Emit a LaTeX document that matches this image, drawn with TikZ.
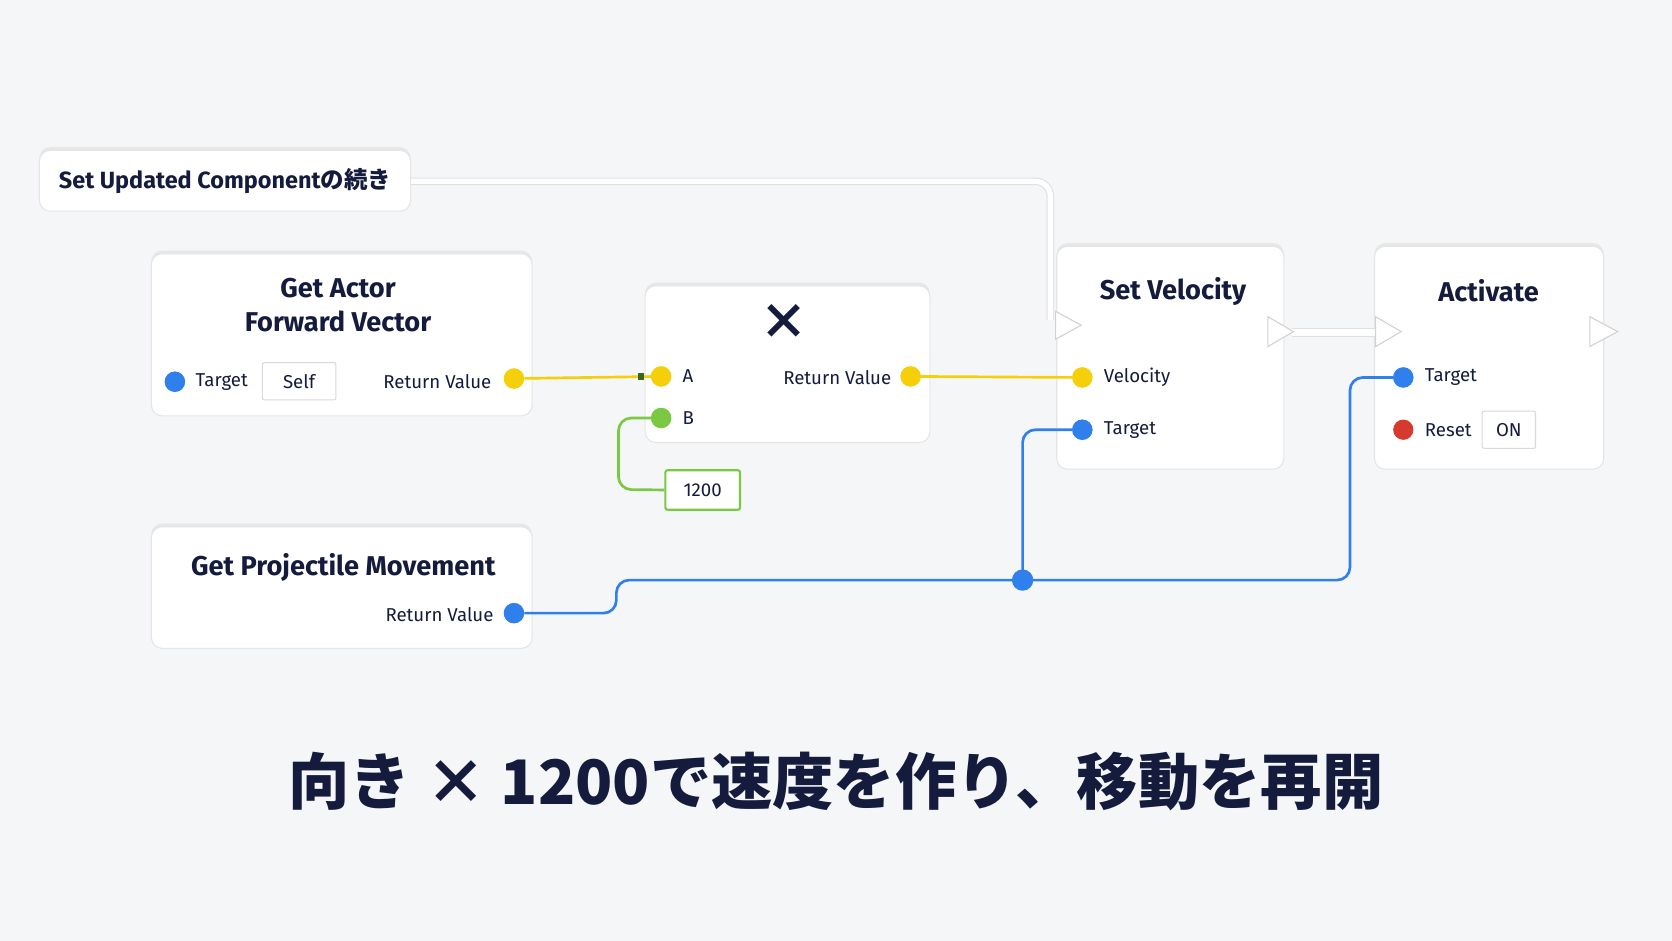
\documentclass[tikz,border=0pt]{standalone}
\usepackage{fontspec}
\setmainfont{Fira Sans}
\newfontfamily\cjk{Noto Sans CJK JP}
\usetikzlibrary{shadows,calc}
\definecolor{bg}{HTML}{F5F6F8}
\definecolor{ink}{HTML}{141B3D}
\definecolor{pblue}{HTML}{2F80ED}
\definecolor{pyel}{HTML}{F5CF0A}
\definecolor{pgreen}{HTML}{7BC843}
\definecolor{pred}{HTML}{D63A2F}
\tikzset{
 box/.style={draw=black!10, fill=white, rounded corners=10pt, line width=1pt,
   drop shadow={opacity=0.12, shadow xshift=0pt, shadow yshift=3pt}},
 pin/.style={circle, minimum size=19pt, inner sep=0pt, fill=#1},
 lbl/.style={font=\fontsize{17.5}{20}\selectfont, text=ink, inner sep=0pt},
 ttl/.style={font=\fontsize{25.5}{32}\selectfont\bfseries, text=ink, align=center, inner sep=0pt},
 valbox/.style={draw=black!15, fill=white, rounded corners=2pt, line width=1pt, font=\fontsize{17.5}{20}\selectfont, text=ink, inner sep=0pt},
 wire/.style={line width=2.5pt, #1},
 exec/.style={draw=black!18, fill=white, line width=1pt},
}
\begin{document}
\begin{tikzpicture}[x=1pt,y=-1pt]
\fill[bg] (0,0) rectangle (1568,882);
\useasboundingbox (0,0) rectangle (1568,882);
% boxes
\node[box, minimum width=348pt, minimum height=57pt] (upd) at (211,169.5) {};
\node[ttl, font=\fontsize{22}{26}\selectfont\bfseries] at (upd) {Set Updated Component{\cjk の続き}};
\node[box, minimum width=357pt, minimum height=152pt] (gaf) at (320.5,314) {};
\node[box, minimum width=267pt, minimum height=147pt] (mul) at (738.5,341.5) {};
\node[box, minimum width=213pt, minimum height=209pt] (sv) at (1097.5,335.5) {};
\node[box, minimum width=215pt, minimum height=209pt] (act) at (1396.5,335.5) {};
\node[box, minimum width=357pt, minimum height=114pt] (gpm) at (320.5,551) {};
% titles
\node[ttl] at (317,286) {Get Actor\\Forward Vector};
\node[ttl, font=\cjk\fontsize{46}{46}\selectfont\bfseries] at (735,302) {×};
\node[ttl] at (1100,273) {Set Velocity};
\node[ttl] at (1396,273) {Activate};
\node[ttl] at (322,532) {Get Projectile Movement};
% GAF pins
\node[pin=pblue] (gafT) at (164,358) {};
\node[lbl] at (208,358) {Target};
\node[valbox, minimum width=69pt, minimum height=35pt] (self) at (280.5,357.5) {Self};
\node[lbl, anchor=east] at (461,358) {Return Value};
\node[pin=pyel] (gafR) at (482,355) {};
% multiply
\node[pin=pyel] (mA) at (620,353) {};
\node[lbl, anchor=west] at (640,353) {A};
\node[pin=pgreen] (mB) at (620,392) {};
\node[lbl, anchor=west] at (640,392) {B};
\node[lbl, anchor=east] at (836,354) {Return Value};
\node[pin=pyel] (mR) at (854,353) {};
\node[draw=pgreen, fill=white, line width=2pt, rounded corners=2pt, minimum width=70pt, minimum height=37pt, font=\fontsize{17.5}{20}\selectfont, text=ink, inner sep=0pt] (v1200) at (659,459.5) {1200};
% set velocity
\node[pin=pyel] (svV) at (1015,354) {};
\node[lbl, anchor=west] at (1035,354) {Velocity};
\node[pin=pblue] (svT) at (1015,403) {};
\node[lbl, anchor=west] at (1035,403) {Target};
% activate
\node[pin=pblue] (aT) at (1316,354) {};
\node[lbl, anchor=west] at (1336,354) {Target};
\node[pin=pred] (aR) at (1316,403) {};
\node[lbl, anchor=west] at (1336,403) {Reset};
\node[valbox, minimum width=50pt, minimum height=35pt] (on) at (1415,403) {ON};
% gpm
\node[lbl, anchor=east] at (463,576) {Return Value};
\node[pin=pblue] (gpmR) at (482,575) {};
% exec wires
\coordinate (svout) at (1212,312);
\coordinate (ain) at (1300,312);
\draw[line width=7pt, black!12, rounded corners=14pt] (upd.east |- 0,170) -- (985,170) -- (985,300);
\draw[line width=5pt, white, rounded corners=14pt] (upd.east |- 0,170) -- (985,170) -- (985,300);
\draw[line width=8pt, black!12] (svout) -- (ain);
\draw[line width=6pt, white] (svout) -- (ain);
\draw[exec] (990,292) -- (1014,305) -- (990,318) -- cycle;
\draw[exec] (1189,297) -- (1213,311) -- (1189,325) -- cycle;
\draw[exec] (1290,297) -- (1314,311) -- (1290,325) -- cycle;
\draw[exec] (1491,297) -- (1517,311) -- (1491,325) -- cycle;
% data wires
\draw[wire=pyel] (gafR) -- (mA);
\fill[pgreen!50!black] (598,350) rectangle (604,356);
\draw[wire=pyel] (mR) -- (svV);
\draw[wire=pgreen, rounded corners=12pt] (mB.west) -- (580,392) -- (580,459) -- (v1200.west);
\coordinate (j) at (959,544);
\draw[wire=pblue, rounded corners=12pt] (gpmR) -- (578,575) -- (578,544) -- (1266,544) -- (1266,354) -- (aT);
\draw[wire=pblue, rounded corners=12pt] (j) -- (959,403) -- (svT);
\node[pin=pblue, minimum size=20pt] (jd) at (j) {};
\node[pin=pblue] at (gafT) {};
\node[pin=pyel] at (gafR) {};
\node[pin=pyel] at (mA) {};
\node[pin=pgreen] at (mB) {};
\node[pin=pyel] at (mR) {};
\node[pin=pyel] at (svV) {};
\node[pin=pblue] at (svT) {};
\node[pin=pblue] at (aT) {};
\node[pin=pblue] at (gpmR) {};
% caption
\node[font=\cjk\fontsize{57.5}{62}\selectfont\bfseries, text=ink, inner sep=0pt] (cap) at (784,733) {向き × 1200で速度を作り、移動を再開};
\end{tikzpicture}
\end{document}
